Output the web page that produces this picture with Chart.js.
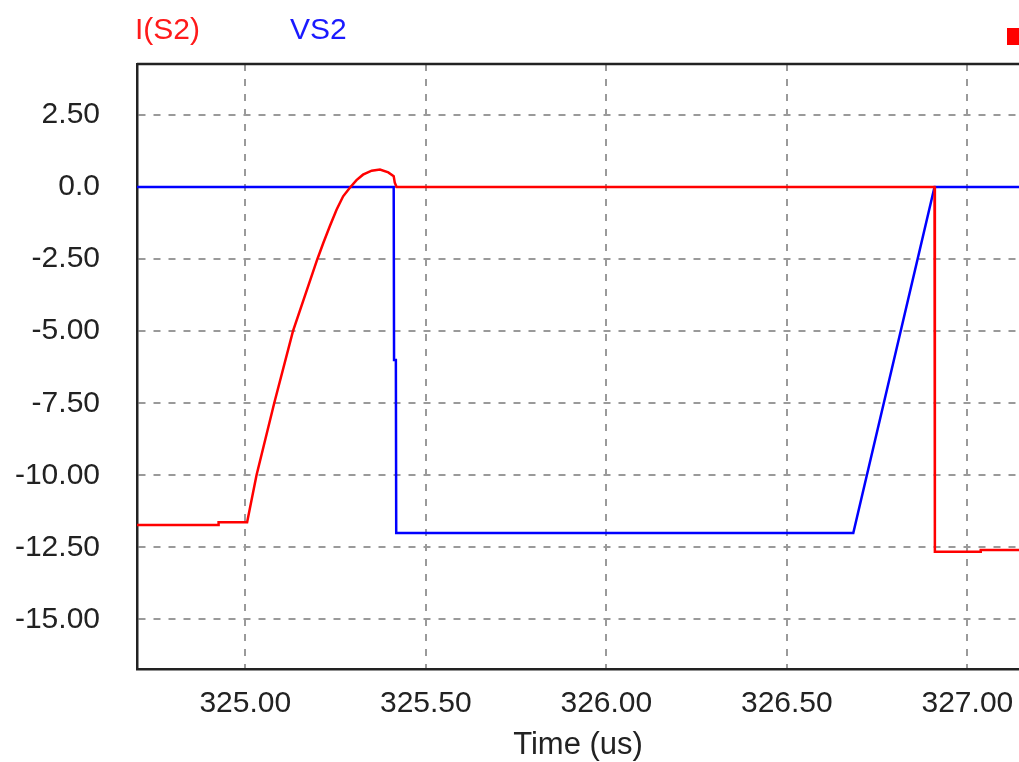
<!DOCTYPE html>
<html>
<head>
<meta charset="utf-8">
<script src="https://cdn.jsdelivr.net/npm/chart.js@4"></script>
<style>
  html, body { margin: 0; padding: 0; background: #fff; }
  .wrap { position: relative; width: 1019px; height: 762px; overflow: hidden; }
  .legend-label {
    position: absolute;
    top: 14px;
    font-family: "Liberation Sans", Arial, sans-serif;
    font-size: 30px;
    line-height: 30px;
    white-space: nowrap;
  }
  .legend-mark { position: absolute; left: 1007px; top: 28px; width: 17px; height: 17px; background: #ff0000; }
</style>
</head>
<body>
<div class="wrap">
  <canvas id="waveChart" width="1019" height="762"></canvas>
  <span class="legend-label" style="left:135px; color:#ff1a1a;">I(S2)</span>
  <span class="legend-label" style="left:290px; color:#1a1aff;">VS2</span>
  <div class="legend-mark"></div>
</div>
<script>
  // switch current I(S2)
  const iTime = [324.70, 324.925, 324.926, 325.005, 325.031, 325.080, 325.132, 325.199, 325.216,
    325.234, 325.253, 325.271, 325.289, 325.308, 325.326, 325.350, 325.373, 325.396,
    325.411, 325.414, 325.419, 326.909, 326.910, 327.036, 327.037, 327.16];
  const iValues = [-11.72, -11.72, -11.63, -11.63, -10.0, -7.5, -5.0, -2.52, -1.94,
    -1.36, -0.78, -0.32, -0.03, 0.24, 0.43, 0.57, 0.61, 0.51,
    0.38, 0.15, 0.0, 0.0, -12.65, -12.65, -12.59, -12.59];

  // switch voltage VS2
  const vTime = [324.70, 325.411, 325.412, 325.417, 325.418, 326.684, 326.909, 327.16];
  const vValues = [0.0, 0.0, -6.0, -6.0, -12.0, -12.0, 0.0, 0.0];

  const xTicks = [325.0, 325.5, 326.0, 326.5, 327.0];
  const xTickLabels = ["325.00", "325.50", "326.00", "326.50", "327.00"];
  const yTicks = [2.5, 0, -2.5, -5, -7.5, -10, -12.5, -15];
  const yTickLabels = ["2.50", "0.0", "-2.50", "-5.00", "-7.50", "-10.00", "-12.50", "-15.00"];

  const toPoints = (xs, ys) => xs.map((x, i) => ({ x: x, y: ys[i] }));

  const topFrame = {
    id: "topFrame",
    afterDatasetsDraw(chart) {
      const { ctx, chartArea } = chart;
      ctx.save();
      ctx.strokeStyle = "#222";
      ctx.lineWidth = 2.5;
      ctx.beginPath();
      ctx.moveTo(chartArea.left, chartArea.top);
      ctx.lineTo(chartArea.right, chartArea.top);
      ctx.stroke();
      ctx.restore();
    },
  };

  const tickFont = { family: "Liberation Sans, Arial, sans-serif", size: 30 };

  new Chart(document.getElementById("waveChart"), {
    type: "line",
    data: {
      datasets: [
        {
          label: "I(S2)",
          data: toPoints(iTime, iValues),
          borderColor: "#ff0000",
          borderWidth: 2.5,
          pointRadius: 0,
          tension: 0,
          fill: false,
        },
        {
          label: "VS2",
          data: toPoints(vTime, vValues),
          borderColor: "#0000ff",
          borderWidth: 2.5,
          pointRadius: 0,
          tension: 0,
          fill: false,
        },
      ],
    },
    options: {
      responsive: false,
      animation: false,
      layout: { padding: { top: 64, left: 0, right: 0, bottom: 0 } },
      plugins: { legend: { display: false }, tooltip: { enabled: false } },
      scales: {
        x: {
          type: "linear",
          min: 324.70,
          max: 327.143,
          afterBuildTicks: (scale) => {
            scale.ticks = xTicks.map((v) => ({ value: v }));
          },
          afterFit: (scale) => {
            scale.height = 93;
            scale.paddingLeft = 0;
            scale.paddingRight = 0;
          },
          grid: { color: "#9a9a9a", lineWidth: 2, drawTicks: false },
          border: { display: true, color: "#222", width: 2.5, dash: [7, 8] },
          ticks: {
            color: "#222",
            font: tickFont,
            padding: 17,
            maxRotation: 0,
            autoSkip: false,
            callback: (value, index) => xTickLabels[index],
          },
          title: {
            display: true,
            text: "Time (us)",
            color: "#222",
            font: { family: "Liberation Sans, Arial, sans-serif", size: 31, lineHeight: 1 },
            padding: { top: 0, bottom: 1 },
          },
        },
        y: {
          type: "linear",
          min: -16.72,
          max: 4.27,
          afterBuildTicks: (scale) => {
            scale.ticks = yTicks.map((v) => ({ value: v }));
          },
          afterFit: (scale) => {
            scale.width = 137;
            scale.paddingTop = 0;
            scale.paddingBottom = 0;
          },
          grid: { color: "#9a9a9a", lineWidth: 2, drawTicks: false },
          border: { display: true, color: "#222", width: 2.5, dash: [7, 8] },
          ticks: {
            color: "#222",
            font: tickFont,
            padding: 37,
            autoSkip: false,
            callback: (value, index) => yTickLabels[index],
          },
        },
      },
    },
    plugins: [topFrame],
  });
</script>
</body>
</html>
